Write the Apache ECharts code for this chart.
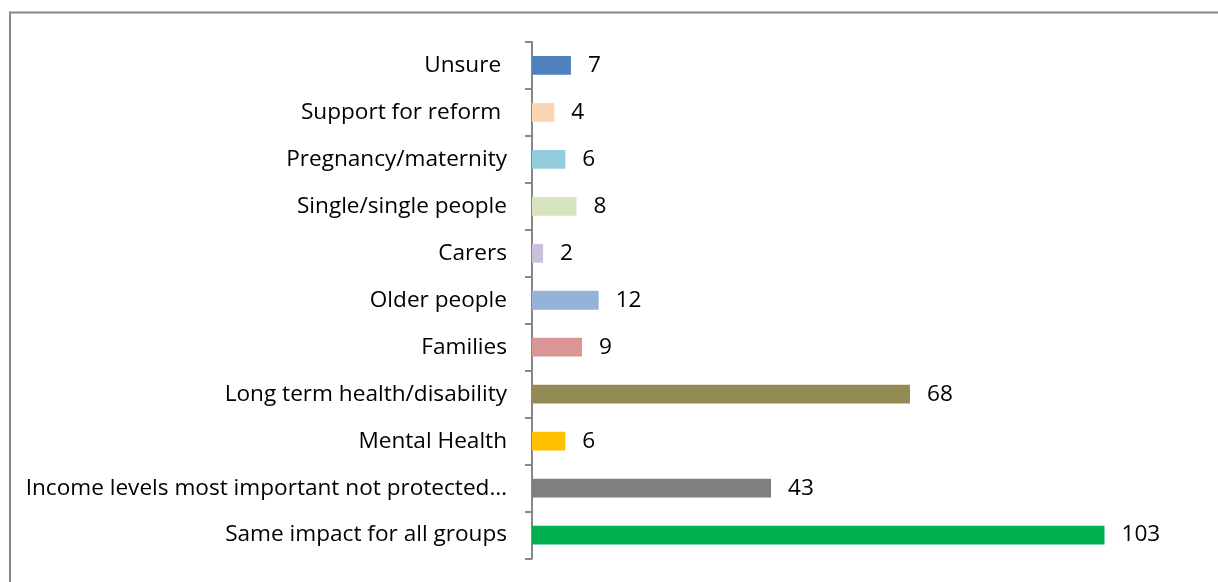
<!DOCTYPE html>
<html>
<head>
<meta charset="utf-8">
<style>
  html, body { margin: 0; padding: 0; background: #ffffff; }
  #chart { width: 1218px; height: 582px; }
</style>
<script src="https://cdn.jsdelivr.net/npm/echarts@6/dist/echarts.min.js"></script>
</head>
<body>
<div id="chart"></div>
<script>
// Categories listed bottom to top (category y axis grows upward)
const categories = [
  'Same impact for all groups',
  'Income levels most important not protected…',
  'Mental Health',
  'Long term health/disability',
  'Families',
  'Older people',
  'Carers',
  'Single/single people',
  'Pregnancy/maternity',
  'Support for reform ',
  'Unsure '
];
const counts = [103, 43, 6, 68, 9, 12, 2, 8, 6, 4, 7];
const barColors = [
  '#00B050', '#7F7F7F', '#FFC000', '#948A54', '#D99694',
  '#95B3D7', '#CCC1DA', '#D7E4BD', '#93CDDD', '#FCD5B5', '#4F81BD'
];

const FONT = '"Open Sans", "Noto Sans", sans-serif';
const FONT_SIZE = 22.6;
const chart = echarts.init(document.getElementById('chart'), null, { renderer: 'canvas' });

chart.setOption({
  animation: false,
  backgroundColor: '#ffffff',
  graphic: [{
    type: 'rect',
    shape: { x: 10, y: 12.5, width: 1240, height: 620 },
    style: { fill: 'none', stroke: '#868686', lineWidth: 2 },
    silent: true
  }],
  grid: { left: 532, top: 42, width: 667, bottom: 23.5, containLabel: false },
  xAxis: {
    type: 'value',
    min: 0,
    max: 120,
    show: false
  },
  yAxis: {
    type: 'category',
    data: categories,
    axisLine: { show: true, lineStyle: { color: '#868686', width: 2 } },
    axisTick: { show: true, length: 7, lineStyle: { color: '#868686', width: 2 } },
    axisLabel: {
      margin: 25, color: '#000000', fontFamily: FONT, fontSize: FONT_SIZE,
      padding: [5, 0, 0, 0]
    },
    splitLine: { show: false }
  },
  series: [{
    type: 'bar',
    data: counts.map((v, i) => ({ value: v, itemStyle: { color: barColors[i] } })),
    barCategoryGap: '60%',
    label: {
      show: true,
      position: 'right',
      distance: 17,
      color: '#000000',
      fontFamily: FONT,
      fontSize: FONT_SIZE,
      padding: [5, 0, 0, 0]
    }
  }]
});
</script>
</body>
</html>
